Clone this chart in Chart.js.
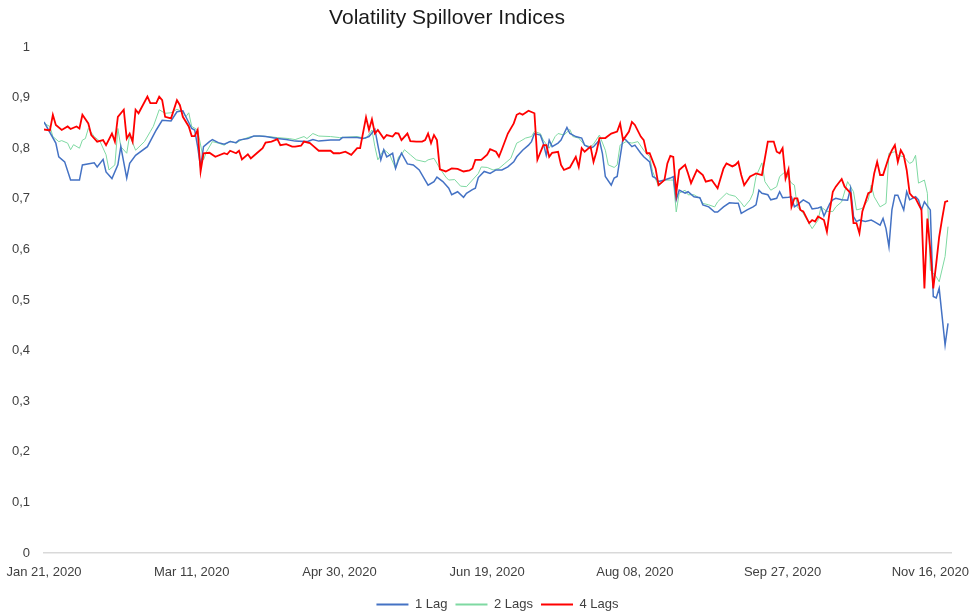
<!DOCTYPE html>
<html>
<head>
<meta charset="utf-8">
<title>Volatility Spillover Indices</title>
<script src="https://cdn.jsdelivr.net/npm/chart.js@4.4.1/dist/chart.umd.min.js"></script>
<style>
  body { margin: 0; background: #fff; }
  #wrap { width: 972px; height: 613px; position: relative; }
</style>
</head>
<body>
<div id="wrap"><canvas id="myChart"></canvas></div>
<script>
var chartTitle = 'Volatility Spillover Indices';
var seriesNames = ['1 Lag', '2 Lags', '4 Lags'];

// days counted from Jan 21, 2020
var lag1Days = [0,4,5,7,9,12,13,17,18,20,21,23,25,26,28,29,31,35,38,40,43,45,47,50,51,52,53,54,56,57,59,61,63,65,66,69,71,73,75,79,82,85,89,91,93,97,100,
  101,106,108,110,112,113,114,115,116,118,119,120,121,123,125,127,129,130,132,133,135,137,138,140,142,143,145,146,147,149,151,153,155,157,159,160,162,164,165,166,168,169,170,171,172,174,175,177,178,180,182,183,185,186,188,189,190,192,193,194,196,197,199,200,
  202,203,205,206,207,208,210,212,213,214,215,217,218,220,222,223,225,227,228,230,232,234,235,236,238,240,241,242,243,245,246,248,249,250,252,253,254,255,257,259,260,262,263,264,266,267,268,270,272,273,274,275,276,278,280,281,283,284,285,286,287,288,289,291,292,293,295,296,297,298,300,301,302,303,304,305,306];
var lag1Values = [0.852,0.810,0.783,0.773,0.737,0.737,0.767,0.771,0.763,0.778,0.753,0.740,0.767,0.803,0.741,0.770,0.786,0.803,0.836,0.855,0.854,0.872,0.874,0.839,0.836,0.803,0.763,0.803,0.813,0.817,0.811,0.808,0.813,0.811,0.816,0.819,0.824,0.824,0.823,0.819,0.817,0.814,0.813,0.817,0.814,0.816,0.816,
  0.821,0.821,0.819,0.823,0.837,0.806,0.777,0.797,0.783,0.790,0.760,0.777,0.790,0.769,0.767,0.757,0.737,0.727,0.734,0.743,0.734,0.721,0.708,0.714,0.703,0.711,0.718,0.721,0.742,0.754,0.750,0.757,0.757,0.763,0.773,0.783,0.796,0.806,0.813,0.829,0.826,0.810,0.786,0.816,0.803,0.810,0.816,0.841,0.829,0.823,0.820,0.806,0.800,0.803,0.816,0.790,0.744,0.727,0.741,0.744,0.820,0.816,0.803,0.806,
  0.790,0.783,0.773,0.744,0.741,0.734,0.737,0.741,0.744,0.698,0.717,0.711,0.714,0.704,0.702,0.688,0.684,0.674,0.674,0.684,0.692,0.691,0.691,0.671,0.678,0.684,0.688,0.717,0.711,0.708,0.698,0.701,0.714,0.702,0.703,0.704,0.684,0.688,0.698,0.691,0.680,0.682,0.684,0.666,0.691,0.698,0.701,0.698,0.697,0.721,0.665,0.655,0.658,0.655,0.658,0.655,0.648,0.661,0.641,0.605,0.678,0.707,0.707,0.678,0.714,0.698,0.704,0.698,0.678,0.694,0.678,0.507,0.504,0.523,0.467,0.411,0.454];

var lag2Days = [0,2,3,5,6,8,9,10,12,13,14,15,17,19,21,22,24,25,26,28,29,31,34,36,37,39,41,43,45,47,48,49,50,52,54,55,57,59,61,63,65,67,70,74,79,83,85,88,89,91,93,97,100,
  106,109,111,112,113,115,116,117,119,120,121,122,124,126,129,130,132,134,136,137,139,141,143,145,147,148,150,152,154,156,158,160,161,163,165,166,168,169,171,173,174,176,178,179,181,183,185,186,188,190,191,193,194,195,197,199,201,
  203,205,206,208,210,212,213,214,215,217,218,220,222,223,225,227,228,231,232,234,236,237,239,240,241,243,244,246,248,249,251,252,253,254,255,257,258,260,262,263,265,267,268,270,272,274,275,277,279,280,281,283,285,286,288,289,291,293,294,295,296,298,299,300,302,303,305,306];
var lag2Values = [0.849,0.843,0.823,0.813,0.815,0.810,0.797,0.807,0.800,0.816,0.819,0.839,0.823,0.813,0.787,0.757,0.767,0.839,0.803,0.790,0.826,0.796,0.813,0.833,0.843,0.876,0.869,0.870,0.877,0.872,0.862,0.870,0.843,0.836,0.777,0.793,0.813,0.810,0.806,0.814,0.810,0.817,0.823,0.824,0.821,0.819,0.817,0.823,0.819,0.829,0.824,0.823,0.821,
  0.823,0.819,0.836,0.803,0.777,0.797,0.793,0.787,0.760,0.783,0.787,0.797,0.787,0.777,0.773,0.777,0.780,0.760,0.743,0.737,0.738,0.725,0.724,0.737,0.750,0.763,0.762,0.757,0.760,0.770,0.780,0.810,0.813,0.820,0.823,0.833,0.829,0.816,0.800,0.823,0.829,0.826,0.837,0.823,0.820,0.806,0.803,0.808,0.826,0.796,0.767,0.762,0.767,0.806,0.813,0.810,0.813,
  0.796,0.783,0.754,0.725,0.737,0.737,0.737,0.674,0.711,0.717,0.708,0.708,0.701,0.691,0.688,0.684,0.694,0.711,0.708,0.705,0.692,0.684,0.698,0.711,0.744,0.771,0.734,0.717,0.724,0.744,0.754,0.740,0.731,0.727,0.684,0.671,0.661,0.641,0.658,0.684,0.675,0.675,0.684,0.694,0.734,0.714,0.678,0.681,0.698,0.727,0.704,0.684,0.691,0.790,0.793,0.786,0.783,0.770,0.773,0.786,0.731,0.737,0.711,0.559,0.546,0.536,0.586,0.645];

var lag4Days = [0,2,3,4,6,8,9,11,12,13,15,16,18,20,21,23,24,25,27,28,29,30,31,32,35,36,38,39,40,41,43,45,46,47,49,50,51,52,53,54,56,58,61,62,63,65,66,67,69,70,72,74,75,77,79,80,82,84,85,87,88,90,91,93,94,97,98,100,
  102,104,106,107,109,110,111,112,113,115,116,118,119,120,121,123,124,126,128,129,130,131,132,133,134,136,138,140,142,144,145,146,148,150,151,153,154,155,157,159,160,161,162,164,166,167,169,170,171,172,174,175,176,178,180,181,182,183,185,186,187,188,190,192,194,195,196,198,199,200,
  202,203,204,205,207,208,210,211,212,213,214,215,217,218,219,221,223,224,226,228,230,231,233,234,235,236,237,239,240,241,243,245,247,248,249,250,251,252,253,254,255,256,257,259,260,261,262,264,265,266,267,268,270,271,273,274,275,276,277,279,280,281,282,283,284,286,287,288,289,290,291,292,293,294,295,297,298,299,300,301,302,303,304,305,306];
var lag4Values = [0.837,0.835,0.866,0.846,0.836,0.843,0.838,0.843,0.839,0.866,0.849,0.826,0.813,0.816,0.806,0.829,0.813,0.862,0.876,0.819,0.829,0.813,0.876,0.869,0.902,0.889,0.889,0.902,0.895,0.862,0.859,0.895,0.885,0.862,0.843,0.824,0.824,0.836,0.754,0.790,0.791,0.783,0.790,0.788,0.795,0.790,0.795,0.778,0.788,0.780,0.790,0.800,0.811,0.813,0.818,0.806,0.808,0.803,0.803,0.805,0.813,0.810,0.805,0.795,0.795,0.795,0.790,0.790,
  0.793,0.787,0.800,0.800,0.861,0.836,0.857,0.829,0.836,0.819,0.826,0.823,0.830,0.829,0.816,0.829,0.814,0.813,0.813,0.816,0.829,0.810,0.826,0.816,0.758,0.754,0.760,0.759,0.754,0.756,0.760,0.777,0.777,0.787,0.798,0.793,0.783,0.798,0.829,0.849,0.866,0.869,0.866,0.874,0.869,0.777,0.806,0.806,0.783,0.791,0.793,0.767,0.757,0.762,0.783,0.763,0.800,0.793,0.803,0.773,0.793,0.820,0.820,0.829,0.833,0.849,0.816,0.833,0.852,0.846,
  0.823,0.816,0.790,0.790,0.760,0.727,0.737,0.770,0.785,0.783,0.711,0.757,0.767,0.750,0.731,0.757,0.747,0.734,0.737,0.721,0.760,0.770,0.764,0.767,0.773,0.747,0.727,0.744,0.747,0.750,0.747,0.813,0.813,0.793,0.790,0.800,0.740,0.758,0.684,0.701,0.701,0.678,0.675,0.652,0.658,0.655,0.665,0.658,0.635,0.678,0.714,0.724,0.739,0.724,0.711,0.652,0.652,0.632,0.675,0.711,0.714,0.750,0.773,0.747,0.747,0.783,0.796,0.806,0.773,0.796,0.786,0.757,0.711,0.704,0.701,0.678,0.523,0.661,0.599,0.523,0.572,0.625,0.661,0.694,0.696];

var yTicks = [0,0.1,0.2,0.3,0.4,0.5,0.6,0.7,0.8,0.9,1];
var months = ['Jan','Feb','Mar','Apr','May','Jun','Jul','Aug','Sep','Oct','Nov','Dec'];
var fontFamily = '"Liberation Sans", Arial, Helvetica, sans-serif';

function toPoints(days, values){
    var pts = [];
    for(var i = 0; i < days.length; i++){
        pts.push({x: days[i], y: values[i]});
    }
    return pts;
}

function dayLabel(v){
    var d = new Date(2020, 0, 21 + v);
    var day = d.getDate() < 10 ? '0' + d.getDate() : '' + d.getDate();
    return months[d.getMonth()] + ' ' + day + ', ' + d.getFullYear();
}

var titlePlugin = {
    id: 'sheetTitle',
    afterDraw: function(chart){
        var ctx = chart.ctx;
        ctx.save();
        ctx.font = '21px ' + fontFamily;
        ctx.fillStyle = '#1a1a1a';
        ctx.textAlign = 'center';
        ctx.textBaseline = 'middle';
        ctx.fillText(chartTitle, 447, 18);
        ctx.restore();
    }
};

var ctx = document.getElementById('myChart');
var myChart = new Chart(ctx, {
    type: 'line',
    data: {
        datasets: [{
            label: seriesNames[0],
            data: toPoints(lag1Days, lag1Values),
            borderColor: '#4472C4',
            backgroundColor: '#4472C4',
            borderWidth: 1.5,
            order: 1
        },{
            label: seriesNames[1],
            data: toPoints(lag2Days, lag2Values),
            borderColor: '#7FD9A2',
            backgroundColor: '#7FD9A2',
            borderWidth: 1,
            order: 2
        },{
            label: seriesNames[2],
            data: toPoints(lag4Days, lag4Values),
            borderColor: '#FF0000',
            backgroundColor: '#FF0000',
            borderWidth: 1.8,
            order: 0
        }]
    },
    options: {
        responsive: true,
        maintainAspectRatio: false,
        animation: false,
        layout: { padding: { left: 0, right: 21, top: 47, bottom: -8 } },
        elements: { point: { radius: 0 }, line: { tension: 0 } },
        plugins: {
            title: { display: false },
            tooltip: { enabled: false },
            legend: {
                position: 'bottom',
                fullSize: false,
                labels: {
                    boxWidth: 32,
                    boxHeight: 2,
                    padding: 8,
                    color: '#404040',
                    font: { family: fontFamily, size: 13 },
                    sort: function(a, b){ return a.datasetIndex - b.datasetIndex; },
                    generateLabels: function(chart){
                        var items = Chart.defaults.plugins.legend.labels.generateLabels(chart);
                        items.forEach(function(item){ item.lineWidth = 0; });
                        return items;
                    }
                }
            }
        },
        scales: {
            x: {
                type: 'linear',
                min: 0,
                max: 307,
                grid: { display: false, drawTicks: false },
                border: { display: true, color: '#d9d9d9', width: 1.5 },
                afterFit: function(scale){
                    scale.height = 37;
                    scale.paddingLeft = 0;
                    scale.paddingRight = 0;
                },
                ticks: {
                    stepSize: 50,
                    includeBounds: false,
                    autoSkip: false,
                    maxRotation: 0,
                    padding: 12,
                    color: '#404040',
                    font: { family: fontFamily, size: 13 },
                    callback: function(v){ return dayLabel(v); }
                }
            },
            y: {
                min: 0,
                max: 1,
                grid: { display: false, drawTicks: false },
                border: { display: false },
                afterFit: function(scale){ scale.width = 44; },
                afterBuildTicks: function(scale){
                    scale.ticks = yTicks.map(function(v){ return {value: v}; });
                },
                ticks: {
                    padding: 14,
                    color: '#404040',
                    font: { family: fontFamily, size: 13 },
                    callback: function(v){ return ('' + Math.round(v * 10) / 10).replace('.', ','); }
                }
            }
        }
    },
    plugins: [titlePlugin]
});
</script>
</body>
</html>
